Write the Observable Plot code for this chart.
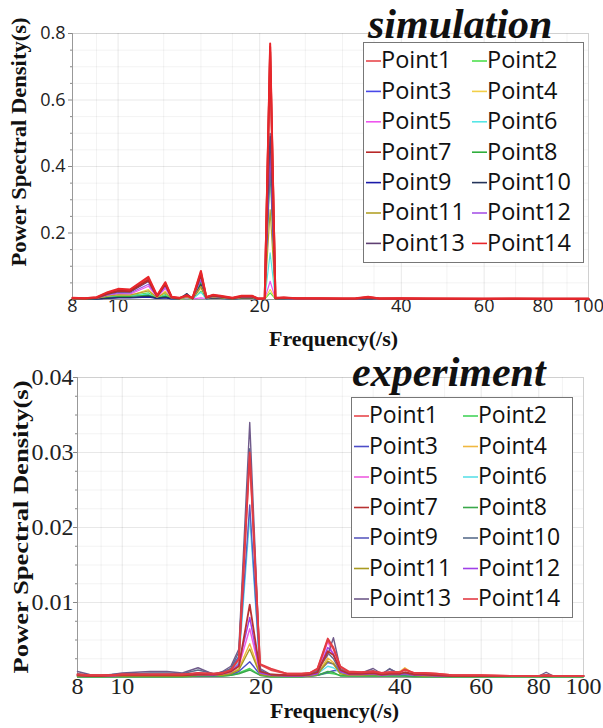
<!DOCTYPE html>
<html><head><meta charset="utf-8">
<script src="https://cdn.jsdelivr.net/npm/d3@7"></script>
<script src="https://cdn.jsdelivr.net/npm/@observablehq/plot@0.6"></script>
<style>
body{margin:0;background:#fff;}
#wrap{position:relative;width:603px;height:728px;overflow:hidden;background:#fff;}
#wrap > svg{position:absolute;left:0;}
</style></head>
<body><div id="wrap"></div>
<script>
// ---------- labels / categories ----------
const seriesNames = ["Point1","Point2","Point3","Point4","Point5","Point6","Point7","Point8","Point9","Point10","Point11","Point12","Point13","Point14"];
const simColors = ["#e8474c","#4fe04f","#4848e8","#f2cf48","#ee55ee","#55e6e6","#b82828","#2fae3c","#1a1aa8","#24345a","#b3a22a","#a855e8","#5e3f72","#e8262b"];
const expColors = ["#e8474c","#45d35a","#4d4dc8","#f0b840","#ee5ce0","#5ce0e8","#b83232","#3aa84a","#5b5bbf","#5a6e8c","#a99a20","#a040e8","#6f5a8a","#e23c44"];
const xTicks = [8,10,20,40,60,80,100];
const xMinor = [9,12.5,15,17.5,25,30,35,50,70,90];
const simYTicks = [0.2,0.4,0.6,0.8];
const simYMinor = [0.05,0.1,0.15,0.25,0.3,0.35,0.45,0.5,0.55,0.65,0.7,0.75];
const expYTicks = [0.01,0.02,0.03,0.04];
const expYMinor = [0.0025,0.005,0.0075,0.0125,0.015,0.0175,0.0225,0.025,0.0275,0.0325,0.035,0.0375];
const simTitle = "simulation";
const expTitle = "experiment";
const yLabel = "Power Spectral Density(s)";
const xLabel = "Frequency(/s)";

// ---------- simulation data ----------
const simFreq = [8,8.5,9.0,9.5,10.0,10.6,11.6,12.1,12.6,13.0,13.5,14.0,14.4,15.0,15.4,15.9,16.5,17.5,18.3,19.3,19.8,20.5,21.05,21.6,22.5,24,27,30,32,34,36,40,45,50,60,70,80,90,100];
const simP1  = [0.004,0.004,0.006,0.020,0.029,0.028,0.063,0.011,0.049,0.007,0.004,0.011,0.004,0.081,0.007,0.013,0.010,0.004,0.010,0.010,0.003,0.004,0.760,0.004,0.005,0.004,0.003,0.003,0.003,0.007,0.003,0.003,0.003,0.002,0.002,0.002,0.002,0.002,0.002];
const simP2  = [0.002,0.002,0.002,0.008,0.011,0.011,0.020,0.004,0.015,0.002,0.002,0.003,0.002,0.025,0.002,0.004,0.003,0.002,0.003,0.003,0.001,0.001,0.020,0.002,0.002,0.001,0.001,0.001,0.001,0.002,0.001,0.001,0.001,0.001,0.001,0.001,0.001,0.001,0.001];
const simP3  = [0.002,0.002,0.002,0.004,0.006,0.006,0.009,0.003,0.006,0.002,0.002,0.012,0.002,0.055,0.003,0.004,0.003,0.002,0.003,0.003,0.001,0.001,0.420,0.002,0.002,0.002,0.001,0.001,0.001,0.002,0.001,0.001,0.001,0.001,0.001,0.001,0.001,0.001,0.001];
const simP4  = [0.002,0.002,0.003,0.009,0.013,0.012,0.030,0.005,0.025,0.003,0.002,0.004,0.002,0.034,0.002,0.005,0.004,0.002,0.004,0.004,0.001,0.001,0.030,0.002,0.002,0.002,0.001,0.001,0.001,0.002,0.001,0.001,0.001,0.001,0.001,0.001,0.001,0.001,0.001];
const simP5  = [0.003,0.003,0.003,0.012,0.017,0.016,0.040,0.007,0.033,0.004,0.003,0.005,0.002,0.005,0.003,0.007,0.005,0.002,0.005,0.005,0.001,0.002,0.055,0.002,0.003,0.002,0.002,0.001,0.002,0.003,0.001,0.002,0.001,0.001,0.001,0.001,0.001,0.001,0.001];
const simP6  = [0.002,0.002,0.002,0.007,0.010,0.010,0.016,0.004,0.012,0.002,0.002,0.006,0.002,0.022,0.002,0.004,0.003,0.002,0.003,0.003,0.001,0.001,0.140,0.002,0.002,0.002,0.001,0.001,0.001,0.002,0.001,0.001,0.001,0.001,0.001,0.001,0.001,0.001,0.001];
const simP7  = [0.004,0.003,0.005,0.018,0.026,0.025,0.058,0.010,0.046,0.006,0.004,0.013,0.004,0.076,0.006,0.012,0.009,0.004,0.009,0.009,0.002,0.003,0.745,0.004,0.005,0.003,0.003,0.002,0.003,0.006,0.003,0.003,0.002,0.002,0.002,0.002,0.002,0.002,0.002];
const simP8  = [0.002,0.002,0.002,0.006,0.009,0.009,0.013,0.004,0.010,0.003,0.002,0.008,0.002,0.050,0.003,0.005,0.004,0.002,0.004,0.004,0.001,0.002,0.390,0.002,0.003,0.002,0.002,0.001,0.002,0.003,0.001,0.002,0.001,0.001,0.001,0.001,0.001,0.001,0.001];
const simP9  = [0.002,0.002,0.002,0.003,0.005,0.005,0.007,0.003,0.005,0.002,0.002,0.014,0.002,0.040,0.002,0.004,0.003,0.002,0.003,0.003,0.001,0.001,0.460,0.002,0.002,0.002,0.001,0.001,0.001,0.002,0.001,0.001,0.001,0.001,0.001,0.001,0.001,0.001,0.001];
const simP10 = [0.002,0.002,0.002,0.004,0.006,0.006,0.010,0.004,0.007,0.003,0.002,0.018,0.002,0.045,0.003,0.005,0.004,0.002,0.004,0.004,0.001,0.002,0.490,0.002,0.003,0.002,0.002,0.001,0.002,0.003,0.002,0.002,0.001,0.001,0.001,0.001,0.001,0.001,0.001];
const simP11 = [0.002,0.002,0.003,0.010,0.014,0.013,0.026,0.006,0.020,0.003,0.002,0.007,0.002,0.040,0.003,0.006,0.005,0.002,0.005,0.005,0.001,0.002,0.270,0.002,0.003,0.002,0.002,0.001,0.002,0.003,0.001,0.002,0.001,0.001,0.001,0.001,0.001,0.001,0.001];
const simP12 = [0.003,0.003,0.004,0.014,0.020,0.019,0.046,0.008,0.038,0.005,0.003,0.010,0.003,0.060,0.004,0.009,0.007,0.003,0.007,0.007,0.002,0.002,0.440,0.003,0.003,0.002,0.002,0.002,0.002,0.004,0.002,0.002,0.002,0.001,0.001,0.001,0.001,0.001,0.001];
const simP13 = [0.003,0.003,0.004,0.016,0.023,0.022,0.054,0.009,0.044,0.005,0.003,0.015,0.003,0.070,0.005,0.010,0.008,0.003,0.008,0.008,0.002,0.003,0.500,0.003,0.004,0.003,0.003,0.002,0.002,0.005,0.002,0.002,0.002,0.002,0.001,0.002,0.001,0.001,0.001];
const simP14 = [0.005,0.004,0.007,0.022,0.032,0.030,0.068,0.012,0.052,0.008,0.005,0.012,0.005,0.086,0.008,0.014,0.011,0.005,0.011,0.011,0.003,0.004,0.770,0.005,0.006,0.004,0.004,0.003,0.004,0.008,0.003,0.004,0.003,0.003,0.002,0.003,0.002,0.002,0.002];

// ---------- experiment data ----------
const expFreq = [8,8.5,9,9.5,10,10.7,11.5,12.5,13.5,14.6,15.8,16.5,17.2,17.9,18.9,19.9,21,22.8,24.5,25.5,26.5,27.9,28.7,29.7,31,33,35,36.5,38,40,41,43,45,48,52,60,70,80,83,86,100];
const expP1  = [0.0004,0.0003,0.0003,0.0003,0.0004,0.0004,0.0004,0.0004,0.0004,0.0005,0.0005,0.0006,0.0010,0.0024,0.0295,0.0017,0.0010,0.0005,0.0005,0.0006,0.0011,0.0050,0.0038,0.0014,0.0007,0.0007,0.0008,0.0006,0.0007,0.0007,0.0010,0.0006,0.0006,0.0005,0.0003,0.0003,0.0002,0.0002,0.0003,0.0002,0.0002];
const expP2  = [0.0001,0.0001,0.0001,0.0001,0.0001,0.0001,0.0001,0.0001,0.0001,0.0002,0.0002,0.0002,0.0003,0.0006,0.0012,0.0003,0.0001,0.0001,0.0001,0.0002,0.0003,0.0006,0.0005,0.0003,0.0002,0.0002,0.0002,0.0002,0.0002,0.0002,0.0002,0.0002,0.0001,0.0001,0.0001,0.0001,0.0001,0.0001,0.0001,0.0001,0.0001];
const expP3  = [0.0002,0.0002,0.0002,0.0002,0.0002,0.0002,0.0002,0.0002,0.0002,0.0002,0.0002,0.0003,0.0004,0.0008,0.0021,0.0004,0.0002,0.0002,0.0002,0.0002,0.0003,0.0007,0.0009,0.0010,0.0004,0.0003,0.0004,0.0003,0.0003,0.0003,0.0003,0.0002,0.0002,0.0002,0.0002,0.0002,0.0002,0.0002,0.0002,0.0002,0.0002];
const expP4  = [0.0002,0.0002,0.0002,0.0002,0.0002,0.0002,0.0002,0.0002,0.0002,0.0003,0.0003,0.0004,0.0006,0.0012,0.0045,0.0005,0.0002,0.0002,0.0002,0.0003,0.0005,0.0026,0.0020,0.0006,0.0004,0.0004,0.0005,0.0004,0.0006,0.0008,0.0013,0.0004,0.0003,0.0002,0.0002,0.0002,0.0002,0.0002,0.0002,0.0002,0.0002];
const expP5  = [0.0003,0.0002,0.0002,0.0002,0.0003,0.0003,0.0003,0.0003,0.0003,0.0003,0.0003,0.0004,0.0007,0.0015,0.0065,0.0006,0.0003,0.0002,0.0002,0.0003,0.0006,0.0048,0.0030,0.0009,0.0004,0.0004,0.0005,0.0003,0.0004,0.0004,0.0005,0.0003,0.0003,0.0002,0.0002,0.0002,0.0002,0.0002,0.0002,0.0002,0.0002];
const expP6  = [0.0003,0.0002,0.0002,0.0002,0.0003,0.0003,0.0003,0.0003,0.0003,0.0004,0.0003,0.0005,0.0009,0.0020,0.0215,0.0007,0.0003,0.0002,0.0002,0.0003,0.0005,0.0015,0.0013,0.0006,0.0004,0.0004,0.0005,0.0003,0.0004,0.0004,0.0004,0.0003,0.0003,0.0002,0.0002,0.0002,0.0002,0.0002,0.0002,0.0002,0.0002];
const expP7  = [0.0003,0.0002,0.0002,0.0003,0.0003,0.0003,0.0003,0.0003,0.0003,0.0004,0.0004,0.0005,0.0008,0.0015,0.0097,0.0008,0.0004,0.0003,0.0003,0.0004,0.0007,0.0035,0.0030,0.0010,0.0005,0.0005,0.0006,0.0004,0.0005,0.0005,0.0007,0.0004,0.0004,0.0003,0.0002,0.0002,0.0002,0.0002,0.0002,0.0002,0.0002];
const expP8  = [0.0001,0.0001,0.0001,0.0001,0.0001,0.0001,0.0001,0.0001,0.0001,0.0002,0.0002,0.0002,0.0003,0.0005,0.0010,0.0003,0.0001,0.0001,0.0001,0.0002,0.0003,0.0008,0.0007,0.0002,0.0002,0.0002,0.0002,0.0002,0.0002,0.0002,0.0002,0.0001,0.0001,0.0001,0.0001,0.0001,0.0001,0.0001,0.0001,0.0001,0.0001];
const expP9  = [0.0003,0.0002,0.0002,0.0003,0.0004,0.0004,0.0004,0.0004,0.0003,0.0006,0.0004,0.0006,0.0012,0.0028,0.0230,0.0008,0.0003,0.0002,0.0002,0.0003,0.0006,0.0020,0.0018,0.0008,0.0005,0.0004,0.0007,0.0004,0.0006,0.0004,0.0005,0.0003,0.0003,0.0003,0.0002,0.0002,0.0002,0.0002,0.0002,0.0002,0.0002];
const expP10 = [0.0005,0.0003,0.0003,0.0004,0.0005,0.0005,0.0006,0.0006,0.0005,0.0010,0.0005,0.0007,0.0012,0.0034,0.0305,0.0010,0.0003,0.0003,0.0003,0.0004,0.0008,0.0033,0.0025,0.0008,0.0005,0.0005,0.0009,0.0004,0.0012,0.0004,0.0005,0.0003,0.0004,0.0003,0.0002,0.0002,0.0002,0.0002,0.0004,0.0002,0.0002];
const expP11 = [0.0002,0.0002,0.0002,0.0002,0.0002,0.0002,0.0002,0.0002,0.0002,0.0003,0.0003,0.0003,0.0005,0.0010,0.0038,0.0004,0.0002,0.0002,0.0002,0.0002,0.0004,0.0022,0.0018,0.0005,0.0003,0.0003,0.0004,0.0003,0.0004,0.0004,0.0005,0.0003,0.0002,0.0002,0.0002,0.0002,0.0002,0.0002,0.0002,0.0002,0.0002];
const expP12 = [0.0003,0.0002,0.0002,0.0002,0.0003,0.0003,0.0003,0.0003,0.0003,0.0004,0.0003,0.0005,0.0008,0.0018,0.0080,0.0006,0.0003,0.0002,0.0002,0.0003,0.0005,0.0040,0.0032,0.0008,0.0004,0.0004,0.0005,0.0003,0.0004,0.0004,0.0005,0.0003,0.0003,0.0002,0.0002,0.0002,0.0002,0.0002,0.0002,0.0002,0.0002];
const expP13 = [0.0008,0.0004,0.0003,0.0004,0.0006,0.0007,0.0008,0.0008,0.0006,0.0013,0.0004,0.0008,0.0015,0.0038,0.0340,0.0012,0.0004,0.0003,0.0004,0.0005,0.0010,0.0030,0.0053,0.0012,0.0006,0.0006,0.0012,0.0005,0.0011,0.0005,0.0006,0.0004,0.0005,0.0004,0.0003,0.0002,0.0002,0.0002,0.0007,0.0002,0.0002];
const expP14 = [0.0004,0.0003,0.0003,0.0003,0.0004,0.0004,0.0004,0.0004,0.0004,0.0006,0.0005,0.0006,0.0010,0.0025,0.0300,0.0018,0.0012,0.0005,0.0005,0.0006,0.0012,0.0052,0.0040,0.0015,0.0008,0.0007,0.0008,0.0006,0.0007,0.0007,0.0011,0.0006,0.0006,0.0005,0.0003,0.0003,0.0002,0.0002,0.0003,0.0002,0.0002];

const simSeries = [simP1,simP2,simP3,simP4,simP5,simP6,simP7,simP8,simP9,simP10,simP11,simP12,simP13,simP14];
const expSeries = [expP1,expP2,expP3,expP4,expP5,expP6,expP7,expP8,expP9,expP10,expP11,expP12,expP13,expP14];

function tidy(freq, series) {
  const rows = [];
  series.forEach((vals, i) => vals.forEach((v, j) => rows.push({f: freq[j], v, name: seriesNames[i]})));
  return rows;
}
const simData = tidy(simFreq, simSeries);
const expData = tidy(expFreq, expSeries);
const thickNames = ["Point1","Point7","Point14"];

function panel(cfg) {
  const svg = Plot.plot({
    width: 603, height: cfg.height,
    marginLeft: cfg.ml, marginRight: cfg.mr, marginTop: cfg.mt, marginBottom: cfg.mb,
    x: {type: "log", domain: [8, 100], axis: null},
    y: {domain: cfg.yDomain},
    color: {domain: seriesNames, range: cfg.colors},
    style: {fontFamily: cfg.tickFont, fontSize: cfg.tickSize + "px", color: "#222", background: "transparent", overflow: "visible"},
    marks: [
      Plot.gridX(xMinor, {stroke: "#000", strokeOpacity: 0.05}),
      Plot.gridY(cfg.yMinor, {stroke: "#000", strokeOpacity: 0.05}),
      Plot.gridX(xTicks, {stroke: "#000", strokeOpacity: 0.09}),
      Plot.gridY(cfg.yTicks, {stroke: "#000", strokeOpacity: 0.09}),
      Plot.frame({stroke: "#000", strokeOpacity: 0.1}),
      Plot.axisY(cfg.yMinor, {tickSize: 2, tickFormat: () => "", stroke: "#888", label: null}),
      Plot.axisY(cfg.yTicks, {tickSize: 4, tickPadding: cfg.yPad, stroke: "#888", label: null, tickFormat: cfg.yFmt, fill: "#222"}),
      Plot.text(xTicks, {x: d => d, frameAnchor: "bottom", dy: cfg.xTickDy, text: d => String(d), fontFamily: cfg.tickFont, fontSize: cfg.tickSize, fill: "#222"}),
      Plot.ruleX([8], {stroke: "#999"}),
      Plot.ruleY([0], {stroke: "#999"}),
      Plot.line(cfg.data.filter(d => !thickNames.includes(d.name)), {x: "f", y: "v", z: "name", stroke: "name", strokeWidth: cfg.thin}),
      Plot.line(cfg.data.filter(d => thickNames.includes(d.name)), {x: "f", y: "v", z: "name", stroke: "name", strokeWidth: cfg.thick}),
      Plot.text([yLabel], {frameAnchor: "left", rotate: -90, textAnchor: "start", dx: cfg.ylDx, dy: cfg.ylDy, fontFamily: "Liberation Serif", fontWeight: "bold", fontSize: 22, fill: "#111"}),
      Plot.text([xLabel], {frameAnchor: "bottom", dx: cfg.xlDx, dy: cfg.xlDy, fontFamily: "Liberation Serif", fontWeight: "bold", fontSize: 22, fill: "#111"})
    ]
  });
  d3.select(svg).selectAll("text").filter(function () { return this.textContent === yLabel; })
    .attr("textLength", cfg.ylLen).attr("lengthAdjust", "spacingAndGlyphs");
  svg.style.top = cfg.top + "px";
  return svg;
}

const wrap = document.getElementById("wrap");
wrap.appendChild(panel({
  top: 0, height: 360, ml: 72, mr: 15, mt: 33, mb: 61,
  yDomain: [0, 0.8], yTicks: simYTicks, yMinor: simYMinor, yFmt: d => String(d),
  colors: simColors, data: simData, thin: 1.2, thick: 2,
  tickFont: "'Open Sans', sans-serif", tickSize: 18, yPad: 3, xTickDy: 12,
  ylDx: -54, ylDy: 100, ylLen: 249, xlDx: 3, xlDy: 46
}));
wrap.appendChild(panel({
  top: 360, height: 368, ml: 77, mr: 20, mt: 17, mb: 51,
  yDomain: [0, 0.04], yTicks: expYTicks, yMinor: expYMinor, yFmt: d => String(d),
  colors: expColors, data: expData, thin: 1.4, thick: 1.8,
  tickFont: "'Liberation Serif', serif", tickSize: 24, yPad: 0, xTickDy: 16,
  ylDx: -57, ylDy: 146, ylLen: 293, xlDx: 4, xlDy: 40
}));

// ---------- titles and legends overlay ----------
const ov = d3.select(wrap).append("svg").attr("width", 603).attr("height", 728).style("top", "0px");
function legend(title, colors, box, titlePos) {
  ov.append("text").attr("x", titlePos[0]).attr("y", titlePos[1])
    .attr("font-family", "Liberation Serif").attr("font-weight", "bold").attr("font-style", "italic")
    .attr("font-size", 42).attr("fill", "#111").text(title);
  ov.append("rect").attr("x", box.x + 0.5).attr("y", box.y + 0.5).attr("width", box.w).attr("height", box.h)
    .attr("fill", "#fff").attr("stroke", "#777");
  seriesNames.forEach((name, i) => {
    const col = i % 2, row = Math.floor(i / 2);
    const cy = box.y + box.first + row * box.step;
    const x0 = box.x + box.colX[col];
    ov.append("line").attr("x1", x0).attr("x2", x0 + box.dash).attr("y1", cy + 1).attr("y2", cy + 1)
      .attr("stroke", colors[i]).attr("stroke-width", 1.6);
    ov.append("text").attr("x", x0 + box.dash).attr("y", cy).attr("dy", "0.36em")
      .attr("font-family", "Open Sans").attr("font-size", box.font).attr("fill", "#111").text(name);
  });
}
legend(simTitle, simColors, {x: 363, y: 42, w: 220, h: 220, first: 18, step: 30.4, colX: [3, 109], dash: 15, font: 23.5}, [368, 37.5]);
legend(expTitle, expColors, {x: 351, y: 397, w: 221, h: 220, first: 18, step: 30.5, colX: [3, 112], dash: 15, font: 23}, [352, 386]);
</script>
</body></html>
